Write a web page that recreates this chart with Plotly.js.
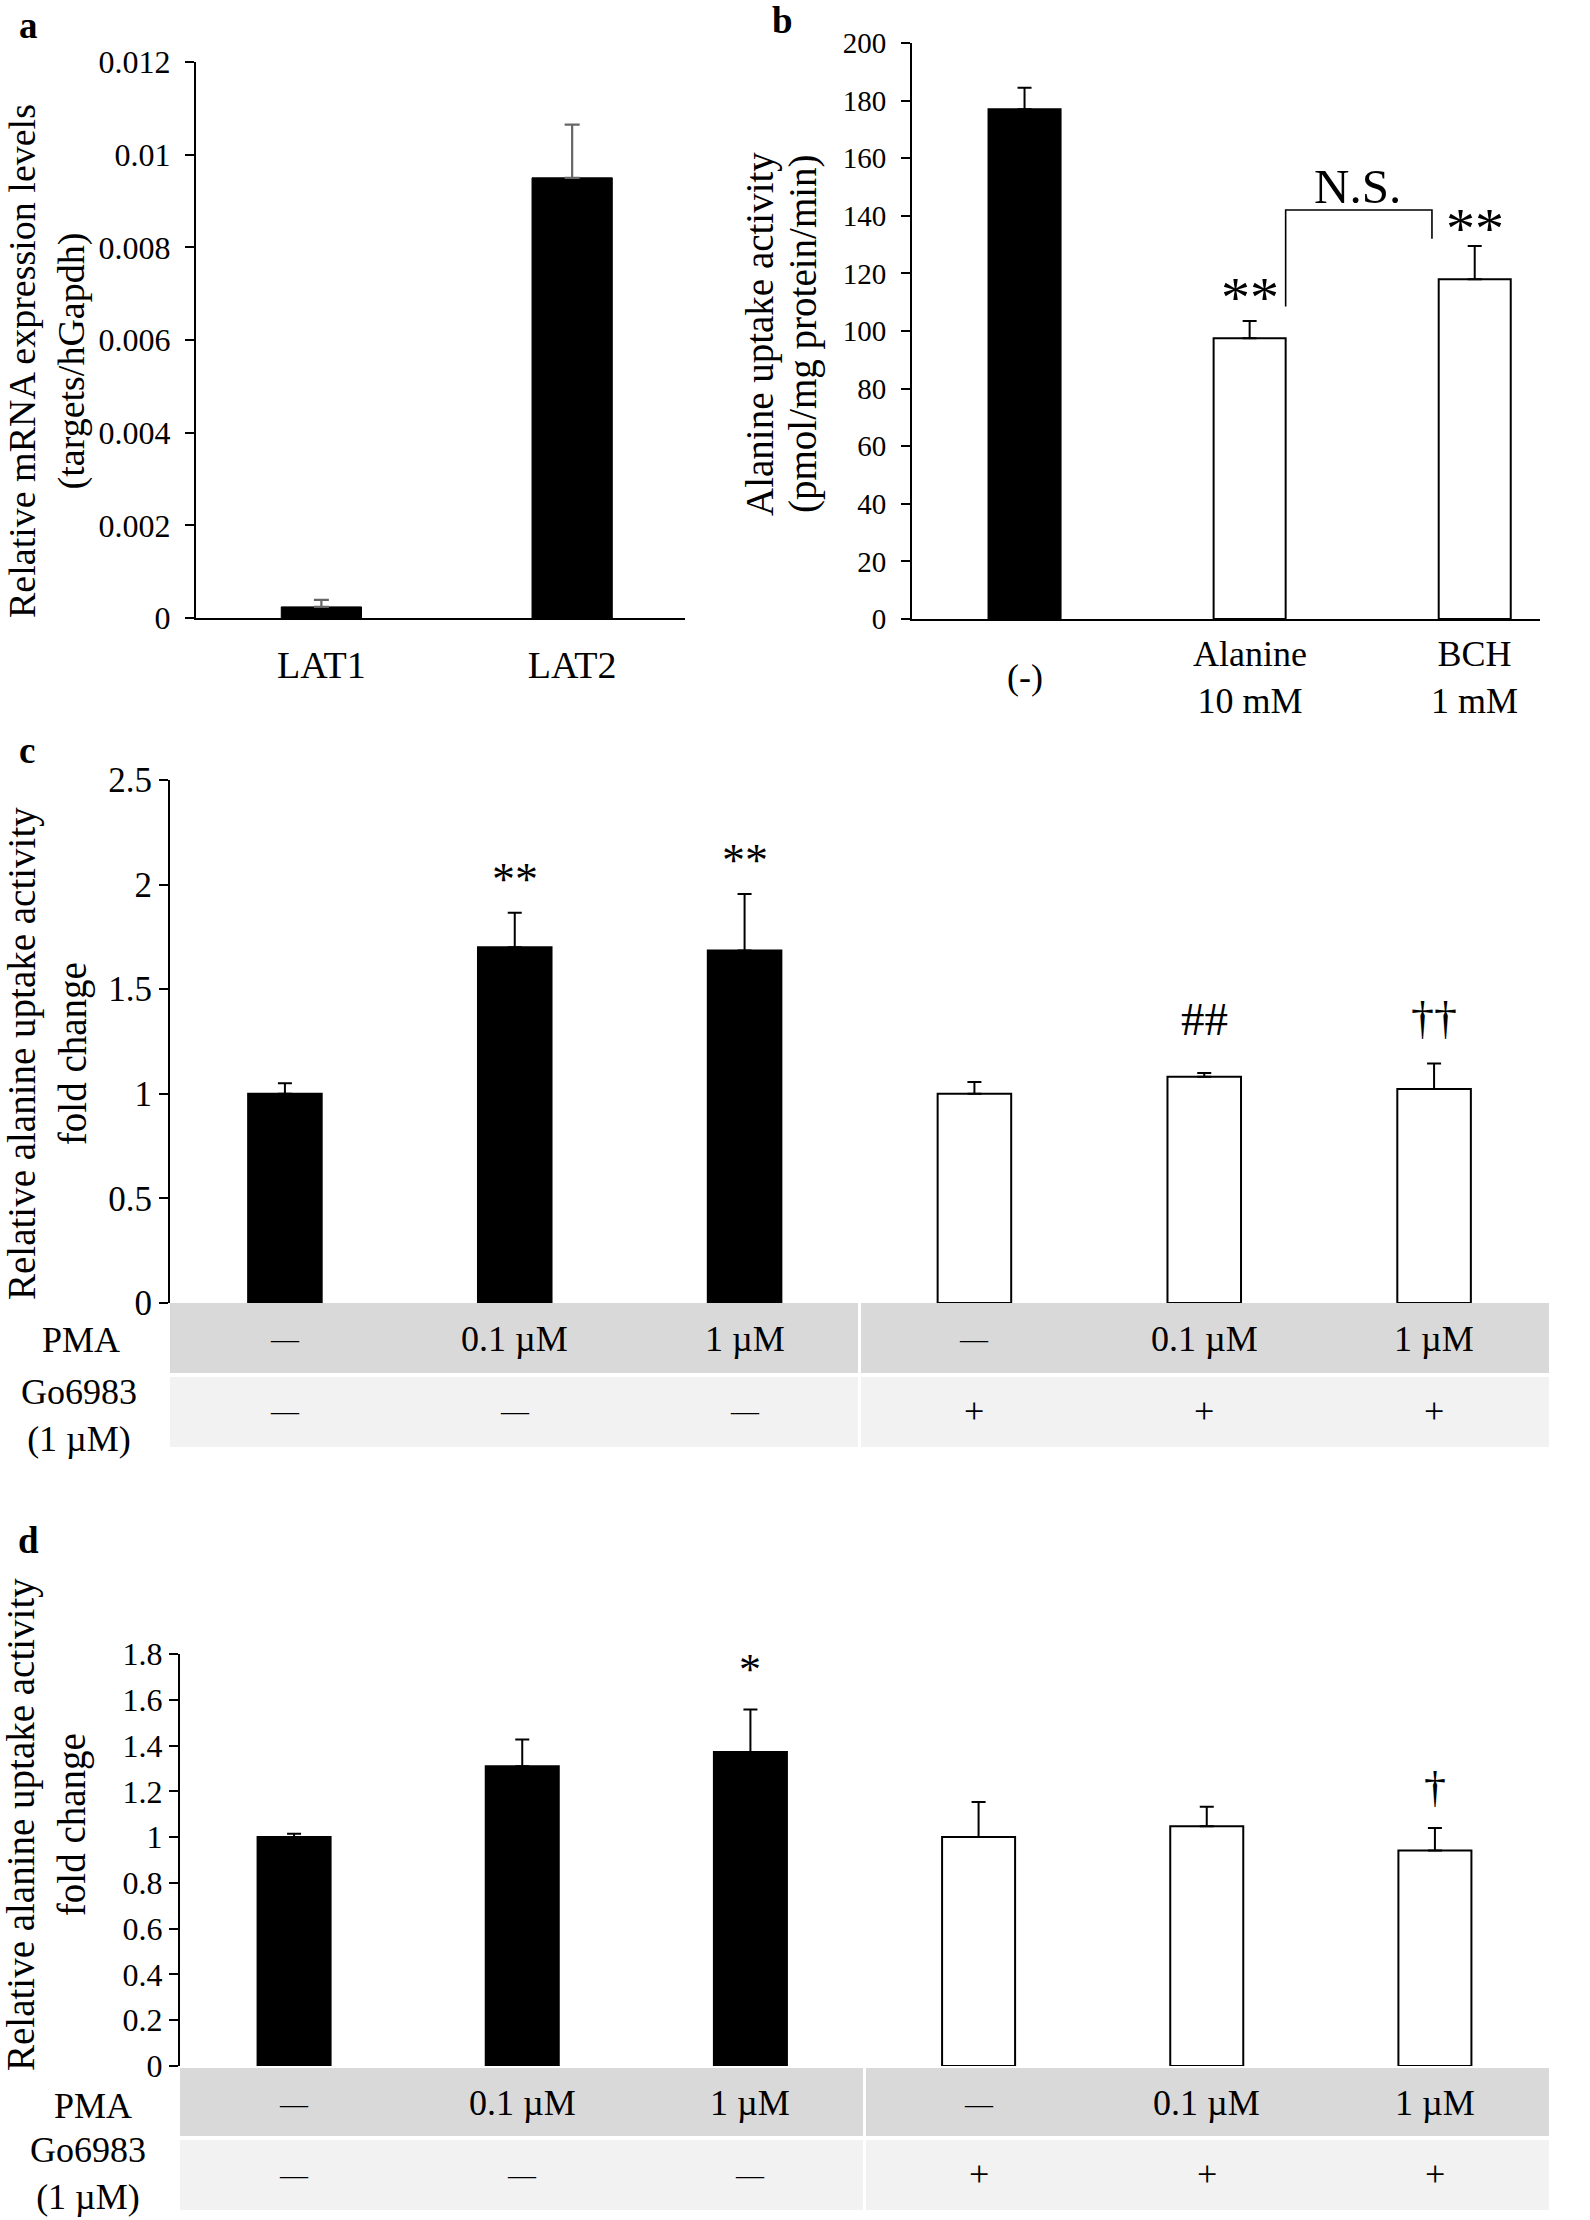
<!DOCTYPE html>
<html>
<head>
<meta charset="utf-8">
<script src="https://cdn.plot.ly/plotly-3.0.1.min.js"></script>
<style>
  html, body { margin: 0; padding: 0; background: #fff; }
  #chart { width: 1590px; height: 2220px; }
</style>
</head>
<body>
<div id="chart"></div>
<script>
// ---------- data ----------
// Panel a
const catsA = ['LAT1', 'LAT2'];
const valsA = [0.00024, 0.0095];
const errA  = [0.00015, 0.00115];

// Panel b
const catsB   = ['(-)', 'Alanine<br>10 mM', 'BCH<br>1 mM'];
const valsB   = [177, 97.5, 118];
const errB    = [7.5, 6, 11.5];
const sigB    = ['', '**', '**'];
const nsLabel = 'N.S.';

// Panels c and d : shared table rows
const groupsCD = ['ctrl', 'PMA 0.1', 'PMA 1', 'Go', 'Go + PMA 0.1', 'Go + PMA 1'];
const pmaRow   = ['\u2014', '0.1 \u00b5M', '1 \u00b5M', '\u2014', '0.1 \u00b5M', '1 \u00b5M'];
const goRow    = ['\u2014', '\u2014', '\u2014', '+', '+', '+'];
const rowLabels = ['PMA', 'Go6983<br>(1 \u00b5M)'];

// Panel c
const valsC = [1.0, 1.70, 1.685, 1.0, 1.082, 1.023];
const errC  = [0.05, 0.165, 0.27, 0.057, 0.018, 0.122];
const sigC  = ['', '**', '**', '', '##', '\u2020\u2020'];

// Panel d
const valsD = [1.0, 1.31, 1.372, 1.0, 1.047, 0.942];
const errD  = [0.015, 0.117, 0.185, 0.153, 0.086, 0.098];
const sigD  = ['', '', '*', '', '', '\u2020'];

// Axis titles
const titleA  = 'Relative mRNA expression levels<br>(targets/hGapdh)';
const titleB1 = 'Alanine uptake activity';
const titleB2 = '(pmol/mg protein/min)';
const titleCD = 'Relative alanine uptake activity<br>fold change';

// ---------- helpers ----------
const W = 1590, H = 2220;
const FONT = '"Liberation Serif", "Times New Roman", Times, serif';
const px = v => v / W;             // x pixel -> paper
const py = v => 1 - v / H;         // y pixel -> paper
const zeros = arr => arr.map(() => 0);

function yAxis(dom, range, dtick, size, anchor, standoff) {
  return {
    domain: dom, range: range, dtick: dtick, tick0: 0, anchor: anchor,
    showline: true, linecolor: '#000', linewidth: 2,
    ticks: 'outside', ticklen: 9, tickwidth: 2, tickcolor: '#000',
    showgrid: false, zeroline: false, fixedrange: true,
    ticklabelstandoff: standoff || 0,
    tickfont: { family: FONT, size: size, color: '#000' }
  };
}

const traces = [];
// a
traces.push({
  type: 'bar', x: catsA, y: valsA, xaxis: 'x', yaxis: 'y', width: 0.32,
  marker: { color: '#000', line: { color: '#000', width: 1 } },
  error_y: { type: 'data', symmetric: false, array: errA, arrayminus: zeros(errA),
             color: '#666', thickness: 2.2, width: 7.5 },
  hoverinfo: 'skip'
});
// b
traces.push({
  type: 'bar', x: catsB, y: valsB, xaxis: 'x2', yaxis: 'y2', width: 0.32,
  marker: { color: catsB.map(c => c === '(-)' ? '#000' : '#fff'),
            line: { color: '#000', width: 2 } },
  error_y: { type: 'data', symmetric: false, array: errB, arrayminus: zeros(errB),
             color: '#000', thickness: 2, width: 7 },
  hoverinfo: 'skip'
});
// c
traces.push({
  type: 'bar', x: groupsCD, y: valsC, xaxis: 'x3', yaxis: 'y3', width: 0.32,
  marker: { color: goRow.map(g => g === '+' ? '#fff' : '#000'),
            line: { color: '#000', width: 2 } },
  error_y: { type: 'data', symmetric: false, array: errC, arrayminus: zeros(errC),
             color: '#000', thickness: 2, width: 7 },
  hoverinfo: 'skip'
});
// d
traces.push({
  type: 'bar', x: groupsCD, y: valsD, xaxis: 'x4', yaxis: 'y4', width: 0.32,
  marker: { color: goRow.map(g => g === '+' ? '#fff' : '#000'),
            line: { color: '#000', width: 2 } },
  error_y: { type: 'data', symmetric: false, array: errD, arrayminus: zeros(errD),
             color: '#000', thickness: 2, width: 7 },
  hoverinfo: 'skip'
});

const annotations = [];
const shapes = [];

function txt(o) {
  return Object.assign({ showarrow: false, xanchor: 'center', yanchor: 'middle',
    font: { family: FONT, size: 36, color: '#000' } }, o);
}

// panel letters
[['a', 28, 26], ['b', 782, 20], ['c', 27, 750], ['d', 28, 1540]].forEach(([t, x, y]) => {
  annotations.push(txt({ text: '<b>' + t + '</b>', xref: 'paper', yref: 'paper',
    x: px(x), y: py(y), font: { family: FONT, size: 37, color: '#000' } }));
});

// y titles
[[titleA, 47, 361, 38], [titleB1, 760, 334, 39], [titleB2, 803, 334, 39],
 [titleCD, 47, 1054, 39], [titleCD, 46, 1825, 39]].forEach(([t, x, y, s]) => {
  annotations.push(txt({ text: t, xref: 'paper', yref: 'paper', x: px(x), y: py(y),
    textangle: -90, font: { family: FONT, size: s, color: '#000' } }));
});

// panel b category labels
catsB.forEach((c, i) => {
  annotations.push(txt({ text: c, xref: 'x2', yref: 'paper', x: i, y: py(677),
    font: { family: FONT, size: 36, color: '#000' } }));
});

// panel b significance
sigB.forEach((s, i) => {
  if (!s) return;
  annotations.push(txt({ text: s, xref: 'x2', yref: 'y2', x: i, y: valsB[i] + errB[i],
    yanchor: 'bottom', yshift: i === 1 ? -11 : -17,
    font: { family: FONT, size: 58, color: '#000' } }));
});
// N.S. bracket
const bw = 0.32;
const yLeft = valsB[1] + errB[1] + 5;
const yRight = valsB[2] + errB[2] + 2.5;
const yTop = Math.max(yLeft, yRight) + 10;
shapes.push({ type: 'path', xref: 'x2', yref: 'y2',
  path: `M ${1 + bw / 2},${yLeft} L ${1 + bw / 2},${yTop} L ${2 - bw / 2 - 0.03},${yTop} L ${2 - bw / 2 - 0.03},${yRight}`,
  line: { color: '#000', width: 1.6 } });
annotations.push(txt({ text: nsLabel, xref: 'x2', yref: 'y2', x: 1.5 - 0.02, y: yTop,
  yanchor: 'bottom', yshift: -6, font: { family: FONT, size: 49, color: '#000' } }));

// tables for c and d
function table(xref, yref, vals, errs, sigs, rows, labelPos, sigStyle) {
  shapes.push({ type: 'rect', xref: xref, yref: 'paper', x0: -0.5, x1: 5.5,
    y0: py(rows[0][0]), y1: py(rows[0][1]), fillcolor: '#d9d9d9', line: { width: 0 }, layer: 'below' });
  shapes.push({ type: 'rect', xref: xref, yref: 'paper', x0: -0.5, x1: 5.5,
    y0: py(rows[1][0]), y1: py(rows[1][1]), fillcolor: '#f2f2f2', line: { width: 0 }, layer: 'below' });
  shapes.push({ type: 'line', xref: xref, yref: 'paper', x0: 2.5, x1: 2.5,
    y0: py(rows[0][0]), y1: py(rows[1][1]), line: { color: '#fff', width: 3 } });
  const yc0 = (rows[0][0] + rows[0][1]) / 2;
  const yc1 = (rows[1][0] + rows[1][1]) / 2;
  pmaRow.forEach((t, i) => {
    annotations.push(txt({ text: t, xref: xref, yref: 'paper', x: i, y: py(yc0 + 1),
      font: { family: FONT, size: t === '\u2014' ? 28 : 36, color: '#000' } }));
  });
  goRow.forEach((t, i) => {
    annotations.push(txt({ text: t, xref: xref, yref: 'paper', x: i, y: py(yc1 - 1),
      font: { family: FONT, size: t === '\u2014' ? 28 : 36, color: '#000' } }));
  });
  annotations.push(txt({ text: rowLabels[0], xref: 'paper', yref: 'paper',
    x: px(labelPos[0][0]), y: py(labelPos[0][1]) }));
  annotations.push(txt({ text: rowLabels[1], xref: 'paper', yref: 'paper',
    x: px(labelPos[1][0]), y: py(labelPos[1][1]) }));
  sigs.forEach((s, i) => {
    if (!s) return;
    const kind = s.indexOf('*') >= 0 ? 'star' : (s.indexOf('#') >= 0 ? 'hash' : 'dagger');
    const st = sigStyle[kind];
    annotations.push(txt({ text: s, xref: xref, yref: yref, x: i, y: vals[i] + errs[i],
      yanchor: 'bottom', yshift: st.shift,
      font: { family: FONT, size: st.size, color: '#000' } }));
  });
}
table('x3', 'y3', valsC, errC, sigC, [[1303, 1373], [1377, 1447]], [[81, 1340], [79, 1415]],
  { star: { size: 46, shift: 6 }, hash: { size: 47, shift: 26 }, dagger: { size: 46, shift: 17 } });
table('x4', 'y4', valsD, errD, sigD, [[2068, 2136], [2140, 2210]], [[93, 2106], [88, 2173]],
  { star: { size: 44, shift: 14 }, hash: { size: 44, shift: 20 }, dagger: { size: 44, shift: 14 } });

const layout = {
  width: W, height: H,
  margin: { l: 0, r: 0, t: 0, b: 0, pad: 0 },
  paper_bgcolor: '#fff', plot_bgcolor: 'rgba(0,0,0,0)',
  showlegend: false,
  font: { family: FONT, color: '#000' },
  xaxis: { domain: [px(196), px(685)], range: [-0.5, 1.45], anchor: 'y', type: 'category',
    showline: true, linecolor: '#000', linewidth: 2, ticks: '', showgrid: false, zeroline: false,
    tickfont: { family: FONT, size: 38, color: '#000' }, ticklabelstandoff: 12, fixedrange: true },
  yaxis: yAxis([py(618), py(62)], [0, 0.012], 0.002, 32, 'x', 8),
  xaxis2: { domain: [px(912), px(1540)], range: [-0.5, 2.29], anchor: 'y2', type: 'category',
    showline: true, linecolor: '#000', linewidth: 2, ticks: '', showticklabels: false,
    showgrid: false, zeroline: false, fixedrange: true },
  yaxis2: yAxis([py(619), py(43)], [0, 200], 20, 29, 'x2', 9),
  xaxis3: { domain: [px(170), px(1549)], range: [-0.5, 5.5], anchor: 'y3', type: 'category',
    showline: false, ticks: '', showticklabels: false, showgrid: false, zeroline: false, fixedrange: true },
  yaxis3: yAxis([py(1303), py(780)], [0, 2.5], 0.5, 35, 'x3', 0),
  xaxis4: { domain: [px(180), px(1549)], range: [-0.5, 5.5], anchor: 'y4', type: 'category',
    showline: false, ticks: '', showticklabels: false, showgrid: false, zeroline: false, fixedrange: true },
  yaxis4: yAxis([py(2066), py(1654)], [0, 1.8], 0.2, 32, 'x4', 0),
  annotations: annotations,
  shapes: shapes
};

Plotly.newPlot('chart', traces, layout, { staticPlot: true, displayModeBar: false });
</script>
</body>
</html>
